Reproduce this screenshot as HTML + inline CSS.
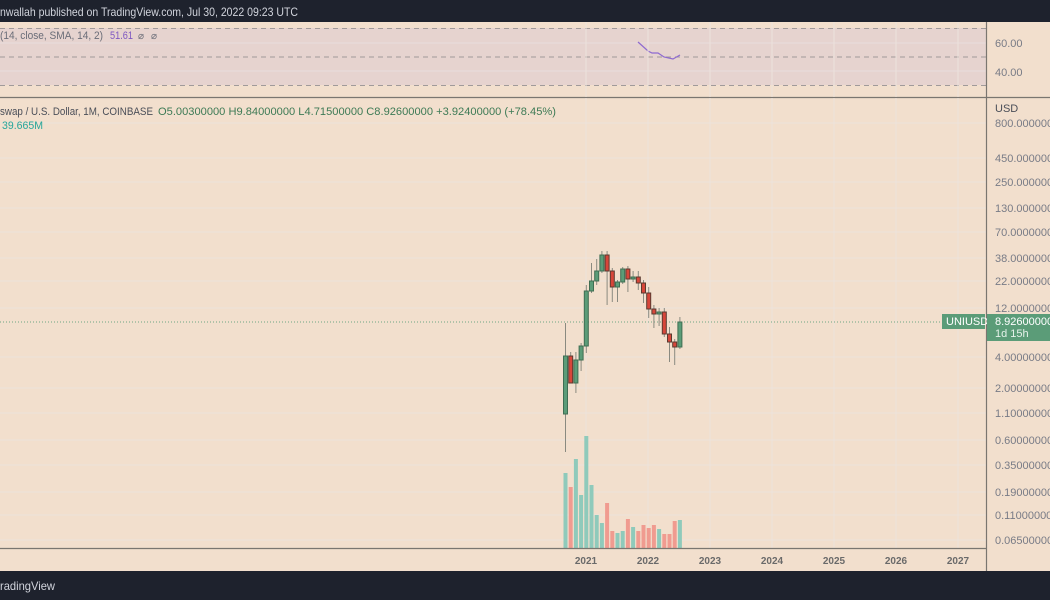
<!DOCTYPE html>
<html><head><meta charset="utf-8"><style>
html,body{margin:0;padding:0;width:1050px;height:600px;overflow:hidden;background:#f2dfcd;}
svg{display:block;font-family:"Liberation Sans",sans-serif;}
</style></head><body>
<svg width="1050" height="600" viewBox="0 0 1050 600">
<rect x="0" y="0" width="1050" height="600" fill="#f2dfcd"/>
<rect x="0" y="0" width="1050" height="22" fill="#1e222d"/>
<text x="0" y="16" font-size="12" fill="#d1d4dc" textLength="298" lengthAdjust="spacingAndGlyphs">nwallah published on TradingView.com, Jul 30, 2022 09:23 UTC</text>
<rect x="0" y="28" width="986" height="57" fill="#e6d3cf"/>
<g stroke="#e8dcdc" stroke-width="1">
<line x1="0" y1="43" x2="986" y2="43"/><line x1="0" y1="71" x2="986" y2="71"/>
</g>
<g stroke="#a09a9a" stroke-width="1" stroke-dasharray="5,4">
<line x1="0" y1="28.5" x2="986" y2="28.5"/><line x1="0" y1="57" x2="986" y2="57"/><line x1="0" y1="85.5" x2="986" y2="85.5"/>
</g>
<polyline points="638,42 648,51 652,53 658,53 664,57 673,59 680,55" fill="none" stroke="#8e6ad0" stroke-width="1.2"/>
<text x="0" y="39" font-size="11" fill="#6a6d78" textLength="103" lengthAdjust="spacingAndGlyphs">(14, close, SMA, 14, 2)</text>
<text x="110" y="39" font-size="11" fill="#7e57c2" textLength="23" lengthAdjust="spacingAndGlyphs">51.61</text>
<text x="138" y="39" font-size="10" fill="#6a6d78">⌀</text>
<text x="151" y="39" font-size="10" fill="#6a6d78">⌀</text>
<text x="995" y="47" font-size="11" fill="#787b86">60.00</text>
<text x="995" y="76" font-size="11" fill="#787b86">40.00</text>
<line x1="0" y1="97.5" x2="1050" y2="97.5" stroke="#7a7670" stroke-width="1.2"/>
<g stroke="#ece3dc" stroke-width="1">
<line x1="586" y1="98" x2="586" y2="548"/><line x1="648" y1="98" x2="648" y2="548"/><line x1="710" y1="98" x2="710" y2="548"/><line x1="772" y1="98" x2="772" y2="548"/><line x1="834" y1="98" x2="834" y2="548"/><line x1="896" y1="98" x2="896" y2="548"/><line x1="958" y1="98" x2="958" y2="548"/>
<line x1="586" y1="22" x2="586" y2="97"/><line x1="648" y1="22" x2="648" y2="97"/><line x1="710" y1="22" x2="710" y2="97"/><line x1="772" y1="22" x2="772" y2="97"/><line x1="834" y1="22" x2="834" y2="97"/><line x1="896" y1="22" x2="896" y2="97"/><line x1="958" y1="22" x2="958" y2="97"/>
<line x1="0" y1="123" x2="986" y2="123"/><line x1="0" y1="158" x2="986" y2="158"/><line x1="0" y1="182" x2="986" y2="182"/><line x1="0" y1="208" x2="986" y2="208"/><line x1="0" y1="232" x2="986" y2="232"/><line x1="0" y1="258" x2="986" y2="258"/><line x1="0" y1="281" x2="986" y2="281"/><line x1="0" y1="308" x2="986" y2="308"/><line x1="0" y1="357" x2="986" y2="357"/><line x1="0" y1="388" x2="986" y2="388"/><line x1="0" y1="413" x2="986" y2="413"/><line x1="0" y1="440" x2="986" y2="440"/><line x1="0" y1="465" x2="986" y2="465"/><line x1="0" y1="492" x2="986" y2="492"/><line x1="0" y1="515" x2="986" y2="515"/><line x1="0" y1="540" x2="986" y2="540"/>
</g>
<text x="0" y="115" font-size="11" fill="#4a4e58" textLength="153" lengthAdjust="spacingAndGlyphs">swap / U.S. Dollar, 1M, COINBASE</text>
<text x="158" y="115" font-size="11" fill="#3d7a55" textLength="398" lengthAdjust="spacingAndGlyphs">O5.00300000  H9.84000000  L4.71500000  C8.92600000  +3.92400000 (+78.45%)</text>
<text x="2" y="129" font-size="11" fill="#26a69a" textLength="41" lengthAdjust="spacingAndGlyphs">39.665M</text>
<line x1="0" y1="322" x2="944" y2="322" stroke="#6fa584" stroke-width="1" stroke-dasharray="1,2"/>
<g>
<rect x="563.5" y="473" width="4" height="75" fill="#8fcabb"/>
<rect x="568.7" y="487" width="4" height="61" fill="#f09b90"/>
<rect x="573.9" y="459" width="4" height="89" fill="#8fcabb"/>
<rect x="579.1" y="495" width="4" height="53" fill="#8fcabb"/>
<rect x="584.3" y="436" width="4" height="112" fill="#8fcabb"/>
<rect x="589.5" y="485" width="4" height="63" fill="#8fcabb"/>
<rect x="594.7" y="515" width="4" height="33" fill="#8fcabb"/>
<rect x="599.9" y="523" width="4" height="25" fill="#8fcabb"/>
<rect x="605.1" y="503" width="4" height="45" fill="#f09b90"/>
<rect x="610.3" y="531" width="4" height="17" fill="#f09b90"/>
<rect x="615.5" y="533" width="4" height="15" fill="#8fcabb"/>
<rect x="620.7" y="531" width="4" height="17" fill="#8fcabb"/>
<rect x="625.9" y="519" width="4" height="29" fill="#f09b90"/>
<rect x="631.1" y="527" width="4" height="21" fill="#8fcabb"/>
<rect x="636.3" y="531" width="4" height="17" fill="#f09b90"/>
<rect x="641.5" y="525" width="4" height="23" fill="#f09b90"/>
<rect x="646.7" y="528" width="4" height="20" fill="#f09b90"/>
<rect x="651.9" y="525" width="4" height="23" fill="#f09b90"/>
<rect x="657.1" y="529" width="4" height="19" fill="#8fcabb"/>
<rect x="662.3" y="534" width="4" height="14" fill="#f09b90"/>
<rect x="667.5" y="534" width="4" height="14" fill="#f09b90"/>
<rect x="672.7" y="521" width="4" height="27" fill="#f09b90"/>
<rect x="677.9" y="520" width="4" height="28" fill="#8fcabb"/>
</g>
<g stroke-width="1">
<g stroke="#8a8a80"><line x1="565.5" y1="323" x2="565.5" y2="452"/><line x1="570.7" y1="352" x2="570.7" y2="383"/><line x1="575.9" y1="352" x2="575.9" y2="393"/><line x1="581.1" y1="343" x2="581.1" y2="371"/><line x1="586.3" y1="285" x2="586.3" y2="353"/><line x1="591.5" y1="263" x2="591.5" y2="293"/><line x1="596.7" y1="259" x2="596.7" y2="285"/><line x1="601.9" y1="251" x2="601.9" y2="273"/><line x1="607.1" y1="251" x2="607.1" y2="305"/><line x1="612.3" y1="268" x2="612.3" y2="302"/><line x1="617.5" y1="280" x2="617.5" y2="302"/><line x1="622.7" y1="267" x2="622.7" y2="284"/><line x1="627.9" y1="266" x2="627.9" y2="292"/><line x1="633.1" y1="271" x2="633.1" y2="282"/><line x1="638.3" y1="271" x2="638.3" y2="290"/><line x1="643.5" y1="280" x2="643.5" y2="303"/><line x1="648.7" y1="287" x2="648.7" y2="318"/><line x1="653.9" y1="305" x2="653.9" y2="328"/><line x1="659.1" y1="308" x2="659.1" y2="326"/><line x1="664.3" y1="308" x2="664.3" y2="337"/><line x1="669.5" y1="327" x2="669.5" y2="362"/><line x1="674.7" y1="339" x2="674.7" y2="365"/><line x1="679.9" y1="317" x2="679.9" y2="349"/></g>
<g fill="#5b9c78" stroke="#3f6e52">
<rect x="563.5" y="356" width="4" height="58"/><rect x="573.9" y="360" width="4" height="23"/><rect x="579.1" y="346" width="4" height="14"/><rect x="584.3" y="291" width="4" height="55"/><rect x="589.5" y="281" width="4" height="10"/><rect x="594.7" y="271" width="4" height="10"/><rect x="599.9" y="255" width="4" height="16"/><rect x="615.5" y="282" width="4" height="5"/><rect x="620.7" y="269" width="4" height="13"/><rect x="631.1" y="277" width="4" height="2"/><rect x="657.1" y="312" width="4" height="2"/><rect x="677.9" y="322" width="4" height="25"/>
</g>
<g fill="#d7463a" stroke="#5a3a30">
<rect x="568.7" y="356" width="4" height="27"/><rect x="605.1" y="255" width="4" height="16"/><rect x="610.3" y="271" width="4" height="16"/><rect x="625.9" y="269" width="4" height="10"/><rect x="636.3" y="277" width="4" height="6"/><rect x="641.5" y="283" width="4" height="10"/><rect x="646.7" y="293" width="4" height="16"/><rect x="651.9" y="309" width="4" height="5"/><rect x="662.3" y="312" width="4" height="22"/><rect x="667.5" y="334" width="4" height="8"/><rect x="672.7" y="342" width="4" height="5"/>
</g>
</g>
<line x1="986.5" y1="22" x2="986.5" y2="571" stroke="#7a7670" stroke-width="1.2"/>
<g font-size="11" fill="#787b86">
<text x="995" y="112" fill="#4a4e58">USD</text>
<text x="995" y="127">800.0000000</text><text x="995" y="162">450.0000000</text><text x="995" y="186">250.0000000</text><text x="995" y="212">130.0000000</text><text x="995" y="236">70.00000000</text><text x="995" y="262">38.00000000</text><text x="995" y="285">22.00000000</text><text x="995" y="312">12.00000000</text><text x="995" y="361">4.00000000</text><text x="995" y="392">2.00000000</text><text x="995" y="417">1.10000000</text><text x="995" y="444">0.60000000</text><text x="995" y="469">0.35000000</text><text x="995" y="496">0.19000000</text><text x="995" y="519">0.11000000</text><text x="995" y="544">0.06500000</text>
</g>
<rect x="942" y="314" width="43" height="15" fill="#5b9c78"/>
<text x="946" y="325" font-size="11" fill="#fff">UNIUSD</text>
<rect x="987" y="314" width="63" height="27" fill="#5b9c78"/>
<text x="995" y="325" font-size="11" fill="#fff">8.92600000</text>
<text x="995" y="337" font-size="11" fill="#e6f2ea">1d 15h</text>
<line x1="0" y1="548.5" x2="986" y2="548.5" stroke="#7a7670" stroke-width="1.2"/>
<g font-size="10" font-weight="bold" fill="#6a6a6a" text-anchor="middle">
<text x="586" y="564">2021</text><text x="648" y="564">2022</text><text x="710" y="564">2023</text><text x="772" y="564">2024</text><text x="834" y="564">2025</text><text x="896" y="564">2026</text><text x="958" y="564">2027</text>
</g>
<rect x="0" y="571" width="1050" height="29" fill="#1e222d"/>
<text x="0" y="590" font-size="12" fill="#d1d4dc" textLength="55" lengthAdjust="spacingAndGlyphs">radingView</text>
</svg>
</body></html>
